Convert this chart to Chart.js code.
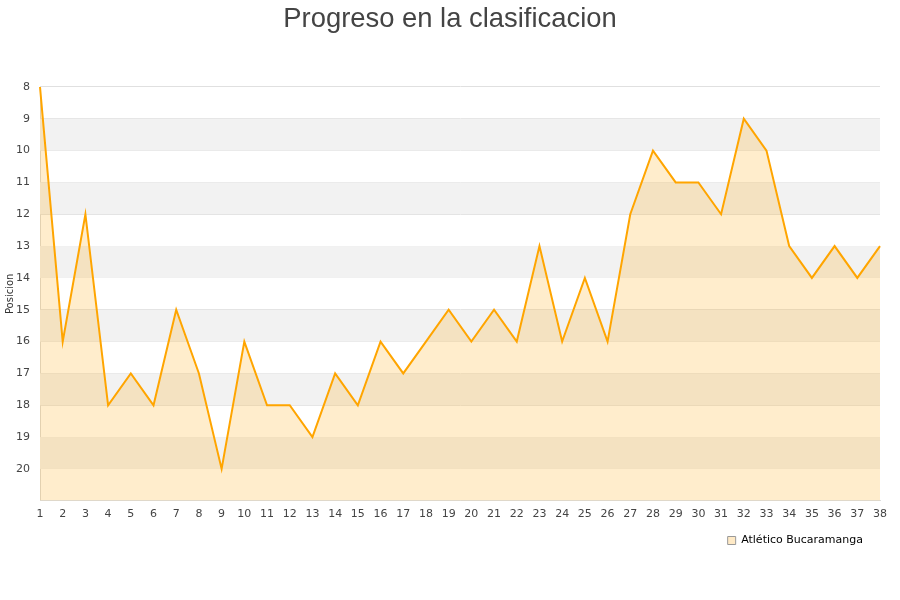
<!DOCTYPE html>
<html>
<head>
<meta charset="utf-8">
<script src="https://cdn.jsdelivr.net/npm/chart.js@4"></script>
<style>
  html, body { margin: 0; padding: 0; background: #fff; }
  #wrap { width: 900px; height: 600px; }
</style>
</head>
<body>
<div id="wrap"><canvas id="posChart" width="900" height="600"></canvas></div>
<script>
const jornadas = [];
for (let i = 1; i <= 38; i++) jornadas.push(String(i));

const posiciones = [8, 16, 12, 18, 17, 18, 15, 17, 20, 16,
  18, 18, 19, 17, 18, 16, 17, 16, 15, 16,
  15, 16, 13, 16, 14, 16, 12, 10, 11, 11,
  12, 9, 10, 13, 14, 13, 14, 13];

const equipo = "Atlético Bucaramanga";
const posMin = 8;
const posMax = 21;

// alternating background bands behind the lines
const bandsPlugin = {
  id: "bands",
  beforeDatasetsDraw(chart) {
    const { ctx, chartArea, scales } = chart;
    const y = scales.y;
    ctx.save();
    for (let v = posMin + 1; v < posMax; v += 2) {
      const top = y.getPixelForValue(v);
      const bottom = y.getPixelForValue(v + 1);
      ctx.fillStyle = "#f2f2f2";
      ctx.fillRect(chartArea.left, top, chartArea.right - chartArea.left, bottom - top);
    }
    ctx.restore();
  },
};

// nudge legend up/left and center the title on the whole canvas
const boxNudge = {
  id: "boxNudge",
  afterLayout(chart) {
    const lg = chart.legend;
    lg.right -= 7;
    lg.top -= 3;
    lg.bottom -= 3;
    const t = chart.titleBlock;
    if (t) { t.left += 10; t.right += 10; }
  },
};

const chart = new Chart(document.getElementById("posChart").getContext("2d"), {
  type: "line",
  data: {
    labels: jornadas,
    datasets: [
      {
        label: equipo,
        data: posiciones,
        borderColor: "#ffa500",
        backgroundColor: "rgba(255, 165, 0, 0.2)",
        borderWidth: 2,
        pointRadius: 0,
        tension: 0,
        fill: { value: posMax },
      },
    ],
  },
  options: {
    responsive: false,
    animation: false,
    layout: { padding: { left: 0, right: 20, top: 0, bottom: 41 } },
    plugins: {
      title: {
        display: true,
        text: "Progreso en la clasificacion",
        color: "#444",
        font: { family: "Liberation Sans, Arial, sans-serif", size: 27.4, weight: "normal" },
        padding: { top: 3, bottom: 51 },
      },
      legend: {
        display: true,
        position: "bottom",
        align: "end",
        labels: {
          color: "#111",
          boxWidth: 8,
          boxHeight: 8,
          font: { family: "DejaVu Sans, sans-serif", size: 11 },
          generateLabels: (c) => [{
            text: equipo,
            fillStyle: "rgba(255, 220, 160, 0.6)",
            strokeStyle: "#999",
            lineWidth: 1,
            datasetIndex: 0,
          }],
        },
      },
      tooltip: { enabled: false },
    },
    scales: {
      x: {
        offset: false,
        grid: { display: false, drawTicks: false },
        border: { color: "#ddd" },
        ticks: {
          color: "#444",
          maxRotation: 0,
          autoSkip: false,
          padding: 7,
          font: { family: "DejaVu Sans, sans-serif", size: 11 },
        },
      },
      y: {
        reverse: true,
        min: posMin,
        max: posMax,
        afterFit: (scale) => { scale.width = 40; },
        grid: { color: "#e0e0e0", drawTicks: false },
        border: { color: "#ddd" },
        title: {
          display: true,
          text: "Posicion",
          color: "#333",
          padding: 4,
          font: { family: "DejaVu Sans, sans-serif", size: 10 },
        },
        ticks: {
          stepSize: 1,
          color: "#444",
          padding: 10,
          font: { family: "DejaVu Sans, sans-serif", size: 11 },
          callback: (v) => (v === posMax ? "" : v),
        },
      },
    },
  },
  plugins: [bandsPlugin, boxNudge],
});
</script>
</body>
</html>
